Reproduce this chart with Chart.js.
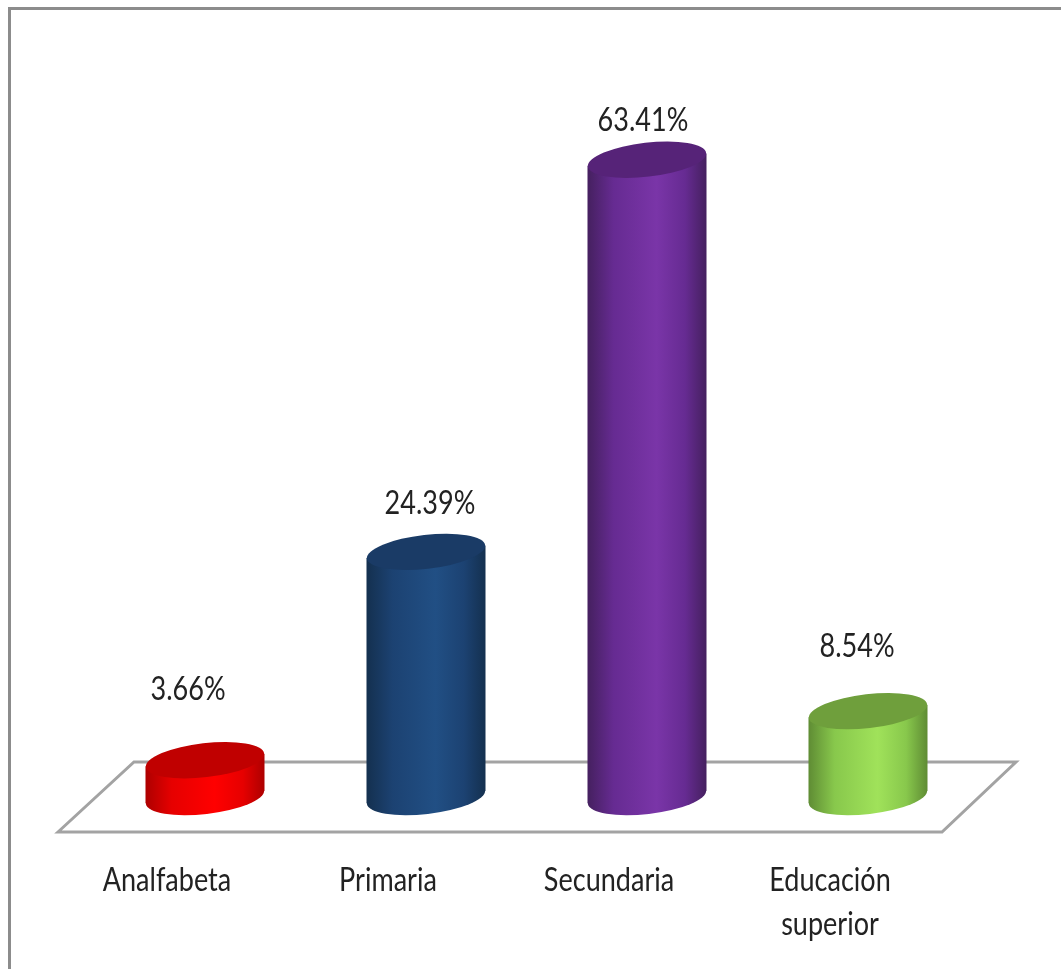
<!DOCTYPE html>
<html lang="es">
<head>
<meta charset="utf-8">
<title>Nivel de instrucción</title>
<script src="https://cdn.jsdelivr.net/npm/chart.js@4/dist/chart.umd.js"></script>
<style>
    html, body { margin: 0; padding: 0; background: #fff; }
    canvas { display: block; }
</style>
</head>
<body>
<canvas id="levelsChart" width="1061" height="969"></canvas>
<script>
"use strict";
const categories = ['Analfabeta', 'Primaria', 'Secundaria', ['Educación', 'superior']];
const percentages = [3.66, 24.39, 63.41, 8.54];

// body gradient stops and lid colour for each cylinder
const edgeColors = ['#ad0000', '#14304f', '#45205f', '#5f8c34'];
const midColors = ['#e60000', '#1c4272', '#662b92', '#88c84c'];
const lightColors = ['#ff0000', '#214f84', '#7a35a8', '#a0e25a'];
const lidColors = ['#c00000', '#1a3b66', '#562378', '#6f9f3c'];

// value labels sit at uneven distances from the lids
const labelShiftX = [-17, 4, -4, -11];
const labelShiftY = [71, 48, 39, 64];

const TEXT_COLOR = '#222222';
const TEXT_FONT = '32px Lato';
const TEXT_SQUEEZE = 0.845;
const LID_RY = 17;
const LID_ANGLE = -6.5 * Math.PI / 180;

function squeezedText(ctx, text, x, y) {
    ctx.save();
    ctx.translate(x, y);
    ctx.scale(TEXT_SQUEEZE, 1);
    ctx.fillStyle = TEXT_COLOR;
    ctx.font = TEXT_FONT;
    ctx.textAlign = 'center';
    ctx.textBaseline = 'middle';
    ctx.fillText(text, 0, 0);
    ctx.restore();
}

const framePlugin = {
    id: 'frameAndFloor',
    beforeDatasetsDraw(chart) {
        const { ctx, chartArea } = chart;
        const zeroY = chart.scales.y.getPixelForValue(0);
        ctx.save();
        // outer frame, open on the right and at the bottom
        ctx.strokeStyle = '#8c8c8c';
        ctx.lineWidth = 3;
        ctx.beginPath();
        ctx.moveTo(9.5, chart.height);
        ctx.lineTo(9.5, 8.5);
        ctx.lineTo(chart.width, 8.5);
        ctx.stroke();
        // floor the cylinders stand on
        ctx.strokeStyle = '#a3a3a3';
        ctx.beginPath();
        ctx.moveTo(chartArea.left - 36.5, zeroY + 35);
        ctx.lineTo(chartArea.left + 39.5, zeroY - 35);
        ctx.lineTo(chartArea.right + 37.5, zeroY - 35);
        ctx.lineTo(chartArea.right - 36.5, zeroY + 35);
        ctx.closePath();
        ctx.stroke();
        ctx.restore();
    }
};

const cylinderPlugin = {
    id: 'cylinders',
    afterDatasetsDraw(chart) {
        const { ctx } = chart;
        const xScale = chart.scales.x;
        const bars = chart.getDatasetMeta(0).data;
        bars.forEach((bar, i) => {
            const { x, y, base, width } = bar.getProps(['x', 'y', 'base', 'width']);
            const rx = width / 2;
            // the lid is tilted, so its side points are not level
            const sideY = (rx * rx - LID_RY * LID_RY) * Math.sin(-LID_ANGLE) * Math.cos(LID_ANGLE) / rx;
            const shade = ctx.createLinearGradient(x - rx, 0, x + rx, 0);
            shade.addColorStop(0, edgeColors[i]);
            shade.addColorStop(0.22, midColors[i]);
            shade.addColorStop(0.58, lightColors[i]);
            shade.addColorStop(0.82, midColors[i]);
            shade.addColorStop(1, edgeColors[i]);

            ctx.save();
            ctx.fillStyle = shade;
            ctx.beginPath();
            ctx.ellipse(x, base, rx, LID_RY, LID_ANGLE, 0, Math.PI * 2);
            ctx.fill();
            ctx.beginPath();
            ctx.moveTo(x - rx, y + sideY);
            ctx.lineTo(x + rx, y - sideY);
            ctx.lineTo(x + rx, base - sideY);
            ctx.lineTo(x - rx, base + sideY);
            ctx.closePath();
            ctx.fill();
            ctx.fillStyle = lidColors[i];
            ctx.beginPath();
            ctx.ellipse(x, y, rx, LID_RY, LID_ANGLE, 0, Math.PI * 2);
            ctx.fill();
            ctx.restore();

            squeezedText(ctx, percentages[i].toFixed(2) + '%', x + labelShiftX[i], y - labelShiftY[i]);

            // category names run left of their cylinders
            const names = [].concat(categories[i]);
            const tickX = xScale.getPixelForTick(i) - 38;
            names.forEach((name, line) => squeezedText(ctx, name, tickX, 881 + line * 44));
        });
    }
};

new Chart(document.getElementById('levelsChart'), {
    type: 'bar',
    data: {
        labels: categories,
        datasets: [{
            data: percentages,
            backgroundColor: 'rgba(0,0,0,0)',
            categoryPercentage: 1,
            barPercentage: 0.5385
        }]
    },
    options: {
        responsive: false,
        animation: false,
        layout: { padding: { left: 94.5, right: 82.5, top: 0, bottom: 172 } },
        plugins: { legend: { display: false }, tooltip: { enabled: false } },
        scales: {
            x: { display: false },
            y: { display: false, min: 0, max: 79.3 }
        }
    },
    plugins: [framePlugin, cylinderPlugin]
});
</script>
</body>
</html>
